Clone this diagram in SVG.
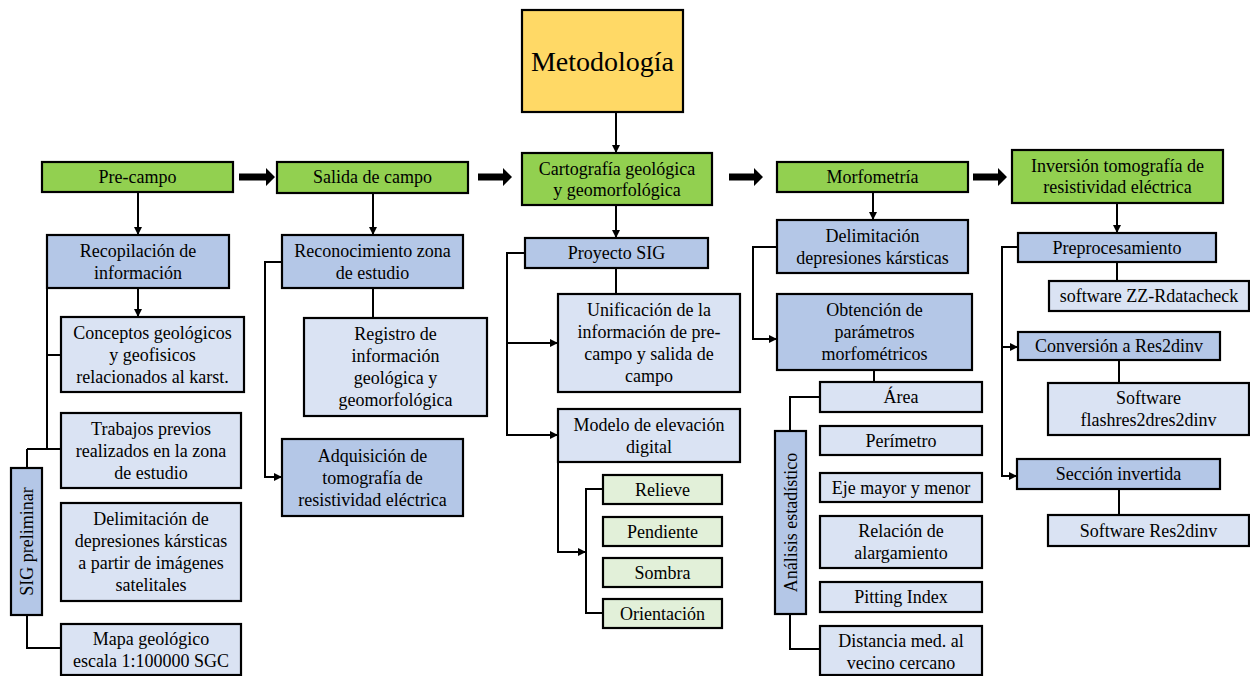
<svg xmlns="http://www.w3.org/2000/svg" width="1250" height="676" viewBox="0 0 1250 676">
<defs>
<marker id="ah" markerUnits="userSpaceOnUse" markerWidth="8" markerHeight="8" refX="8" refY="4" orient="auto">
<path d="M0,0 L8,4 L0,8 z" fill="#000"/>
</marker>
<style>
.n rect{stroke:#000;stroke-width:2.2}
.y{fill:#FFD966}
.g{fill:#92D050}
.b{fill:#B4C7E7}
.l{fill:#DAE3F3}
.lg{fill:#E2F0D9}
text{font-family:"Liberation Serif","Times New Roman",serif;font-size:18px;fill:#000;text-anchor:middle}
.t{font-size:28px}
#connectors path,#connectors line{stroke:#000;stroke-width:2;fill:none}
.a{marker-end:url(#ah)}
#connectors .big{fill:#000;stroke:none}
</style>
</defs>
<rect x="0" y="0" width="1250" height="676" style="fill:#fff;stroke:none"/>

<g id="connectors">
<line class="a" x1="616" y1="112" x2="616" y2="153"/>
<line class="a" x1="138" y1="192" x2="138" y2="235"/>
<line class="a" x1="138" y1="288" x2="138" y2="317"/>
<path d="M47,288 V449 M47,355 H61 M27,449 H61 M27,449 V468 M27,615 V648 H61"/>
<line class="a" x1="373" y1="193" x2="373" y2="235"/>
<line x1="373" y1="288" x2="373" y2="318"/>
<path class="a" d="M282,262 H265 V477 H282"/>
<line class="a" x1="616" y1="205" x2="616" y2="238"/>
<line x1="616" y1="268" x2="616" y2="294"/>
<path class="a" d="M525,253 H507 V435 H558"/>
<path class="a" d="M507,343 H558"/>
<path class="a" d="M558,462 V552 H586"/>
<path d="M603,489 H586 V613 H603"/>
<line class="a" x1="873" y1="192" x2="873" y2="220"/>
<path class="a" d="M777,247 H753 V339 H777"/>
<line x1="874" y1="370" x2="874" y2="382"/>
<path d="M820,397 H790 V431 M790,614 V649 H820"/>
<line class="a" x1="1117" y1="203" x2="1117" y2="233"/>
<line x1="1117" y1="262" x2="1117" y2="281"/>
<path class="a" d="M1018,247 H1002 V476 H1017"/>
<path class="a" d="M1002,347 H1018"/>
<line x1="1119" y1="360" x2="1119" y2="383"/>
<line x1="1119" y1="489" x2="1119" y2="515"/>
<polygon class="big" points="239,173.5 266,173.5 266,168 275,177 266,186 266,180.5 239,180.5"/>
<polygon class="big" points="478,173.5 503,173.5 503,168 512,177 503,186 503,180.5 478,180.5"/>
<polygon class="big" points="729,173.5 754,173.5 754,168 763,177 754,186 754,180.5 729,180.5"/>
<polygon class="big" points="973,173.5 998,173.5 998,168 1007,177 998,186 998,180.5 973,180.5"/>
</g>

<g id="metodologia" class="n"><rect class="y" x="522" y="10" width="161" height="102"/><text class="t" x="602.5" y="71">Metodología</text></g>

<g id="precampo" class="n"><rect class="g" x="42" y="162" width="191" height="30"/><text x="137.5" y="183">Pre-campo</text></g>
<g id="recopilacion" class="n"><rect class="b" x="47" y="235" width="182" height="53"/><text x="138" y="256.5">Recopilación de<tspan x="138" dy="22">información</tspan></text></g>
<g id="conceptos" class="n"><rect class="l" x="61" y="317" width="183" height="75"/><text x="152.5" y="338.5">Conceptos geológicos<tspan x="152.5" dy="22">y geofisicos</tspan><tspan x="152.5" dy="22">relacionados al karst.</tspan></text></g>
<g id="trabajos" class="n"><rect class="l" x="61" y="413" width="180" height="75"/><text x="151" y="434.5">Trabajos previos<tspan x="151" dy="22">realizados en la zona</tspan><tspan x="151" dy="22">de estudio</tspan></text></g>
<g id="delimitacion-sat" class="n"><rect class="l" x="61" y="503" width="180" height="98"/><text x="151" y="525">Delimitación de<tspan x="151" dy="22">depresiones kársticas</tspan><tspan x="151" dy="22">a partir de imágenes</tspan><tspan x="151" dy="22">satelitales</tspan></text></g>
<g id="mapa" class="n"><rect class="l" x="61" y="624" width="180" height="51"/><text x="151" y="644.5">Mapa geológico<tspan x="151" dy="22">escala 1:100000 SGC</tspan></text></g>
<g id="sig-preliminar" class="n"><rect class="b" x="11" y="468" width="31" height="147"/><text transform="translate(32.5,541.5) rotate(-90)" x="0" y="0">SIG preliminar</text></g>

<g id="salida" class="n"><rect class="g" x="277" y="162" width="191" height="31"/><text x="372.5" y="183">Salida de campo</text></g>
<g id="reconocimiento" class="n"><rect class="b" x="282" y="235" width="181" height="53"/><text x="372.5" y="256.5">Reconocimiento zona<tspan x="372.5" dy="22">de estudio</tspan></text></g>
<g id="registro" class="n"><rect class="l" x="304" y="318" width="183" height="98"/><text x="395.5" y="340">Registro de<tspan x="395.5" dy="22">información</tspan><tspan x="395.5" dy="22">geológica y</tspan><tspan x="395.5" dy="22">geomorfológica</tspan></text></g>
<g id="adquisicion" class="n"><rect class="b" x="282" y="439" width="181" height="77"/><text x="372.5" y="461.5">Adquisición de<tspan x="372.5" dy="22">tomografía de</tspan><tspan x="372.5" dy="22">resistividad eléctrica</tspan></text></g>

<g id="cartografia" class="n"><rect class="g" x="522" y="153" width="190" height="52"/><text x="617" y="175">Cartografía geológica<tspan x="617" dy="21">y geomorfológica</tspan></text></g>
<g id="proyecto-sig" class="n"><rect class="b" x="525" y="238" width="183" height="30"/><text x="616.5" y="259">Proyecto SIG</text></g>
<g id="unificacion" class="n"><rect class="l" x="558" y="294" width="182" height="98"/><text x="649" y="316">Unificación de la<tspan x="649" dy="22">información de pre-</tspan><tspan x="649" dy="22">campo y salida de</tspan><tspan x="649" dy="22">campo</tspan></text></g>
<g id="modelo" class="n"><rect class="l" x="558" y="409" width="182" height="53"/><text x="649" y="430.5">Modelo de elevación<tspan x="649" dy="22">digital</tspan></text></g>
<g id="relieve" class="n"><rect class="lg" x="603" y="475" width="119" height="29"/><text x="662.5" y="495.5">Relieve</text></g>
<g id="pendiente" class="n"><rect class="lg" x="603" y="517" width="119" height="29"/><text x="662.5" y="537.5">Pendiente</text></g>
<g id="sombra" class="n"><rect class="lg" x="603" y="558" width="119" height="29"/><text x="662.5" y="578.5">Sombra</text></g>
<g id="orientacion" class="n"><rect class="lg" x="603" y="599" width="119" height="29"/><text x="662.5" y="619.5">Orientación</text></g>

<g id="morfometria" class="n"><rect class="g" x="777" y="162" width="191" height="30"/><text x="872.5" y="183">Morfometría</text></g>
<g id="delimitacion" class="n"><rect class="b" x="777" y="220" width="191" height="53"/><text x="872.5" y="241.5">Delimitación<tspan x="872.5" dy="22">depresiones kársticas</tspan></text></g>
<g id="obtencion" class="n"><rect class="b" x="777" y="294" width="195" height="76"/><text x="874.5" y="316">Obtención de<tspan x="874.5" dy="22">parámetros</tspan><tspan x="874.5" dy="22">morfométricos</tspan></text></g>
<g id="area" class="n"><rect class="l" x="820" y="382" width="162" height="30"/><text x="901" y="403">Área</text></g>
<g id="perimetro" class="n"><rect class="l" x="820" y="426" width="162" height="29"/><text x="901" y="446.5">Perímetro</text></g>
<g id="eje" class="n"><rect class="l" x="820" y="473" width="162" height="29"/><text x="901" y="493.5">Eje mayor y menor</text></g>
<g id="relacion" class="n"><rect class="l" x="820" y="516" width="162" height="52"/><text x="901" y="537">Relación de<tspan x="901" dy="22">alargamiento</tspan></text></g>
<g id="pitting" class="n"><rect class="l" x="820" y="582" width="162" height="30"/><text x="901" y="603">Pitting Index</text></g>
<g id="distancia" class="n"><rect class="l" x="820" y="626" width="162" height="49"/><text x="901" y="646.5">Distancia med. al<tspan x="901" dy="22">vecino cercano</tspan></text></g>
<g id="analisis" class="n"><rect class="b" x="775" y="431" width="31" height="183"/><text transform="translate(796.5,522.5) rotate(-90)" x="0" y="0">Análisis estadístico</text></g>

<g id="inversion" class="n"><rect class="g" x="1012" y="150" width="211" height="53"/><text x="1117.5" y="172">Inversión tomografía de<tspan x="1117.5" dy="21">resistividad eléctrica</tspan></text></g>
<g id="preprocesamiento" class="n"><rect class="b" x="1018" y="233" width="198" height="29"/><text x="1117" y="253.5">Preprocesamiento</text></g>
<g id="zz" class="n"><rect class="l" x="1049" y="281" width="200" height="30"/><text x="1149" y="302">software ZZ-Rdatacheck</text></g>
<g id="conversion" class="n"><rect class="b" x="1018" y="332" width="202" height="28"/><text x="1119" y="352">Conversión a Res2dinv</text></g>
<g id="flashres" class="n"><rect class="l" x="1048" y="383" width="201" height="52"/><text x="1148.5" y="404">Software<tspan x="1148.5" dy="22">flashres2dres2dinv</tspan></text></g>
<g id="seccion" class="n"><rect class="b" x="1017" y="459" width="203" height="30"/><text x="1118.5" y="480">Sección invertida</text></g>
<g id="res2dinv" class="n"><rect class="l" x="1048" y="515" width="201" height="31"/><text x="1148.5" y="536.5">Software Res2dinv</text></g>
</svg>
